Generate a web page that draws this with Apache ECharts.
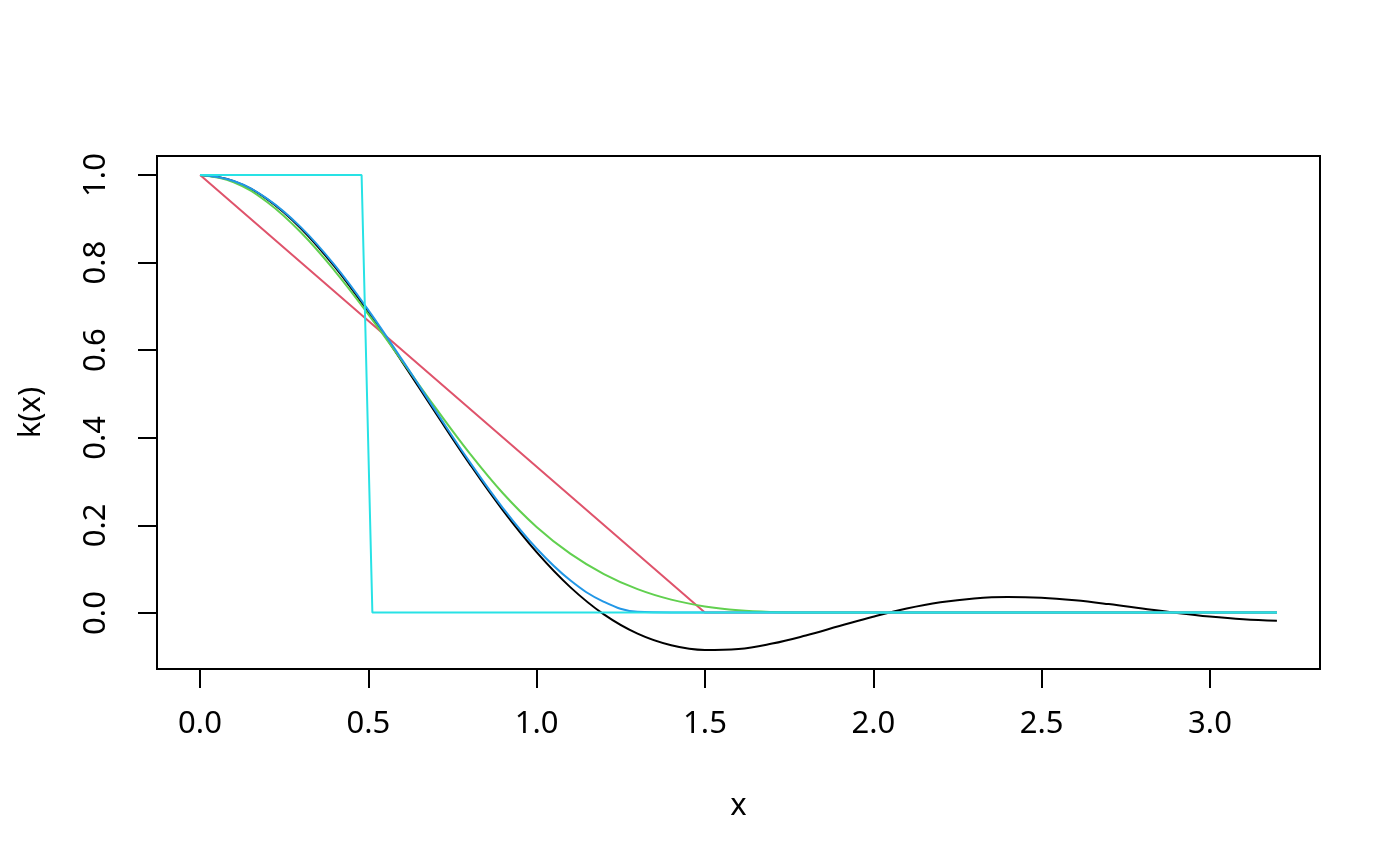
<!DOCTYPE html>
<html>
<head>
<meta charset="utf-8">
<script src="https://cdn.jsdelivr.net/npm/echarts@6/dist/echarts.min.js"></script>
<style>
  html, body { margin: 0; padding: 0; background: #fff; }
  #chart { width: 1400px; height: 866px; }
</style>
</head>
<body>
<div id="chart"></div>
<script>
// x positions (0 .. 3.2, step 0.1)
var xs = [0, 0.1, 0.2, 0.3, 0.4, 0.5, 0.6, 0.7, 0.8, 0.9, 1.0,
          1.1, 1.2, 1.3, 1.4, 1.5, 1.6, 1.7, 1.8, 1.9, 2.0,
          2.1, 2.2, 2.3, 2.4, 2.5, 2.6, 2.7, 2.8, 2.9, 3.0, 3.1, 3.2];

// black curve
var blackVals = [1, 0.9859, 0.9443, 0.8778, 0.7903, 0.6869, 0.5735, 0.4562, 0.3409, 0.2333, 0.1379,
                 0.0580, -0.0044, -0.0484, -0.0749, -0.0856, -0.0833, -0.0710, -0.0525, -0.0310, -0.0097,
                 0.0090, 0.0233, 0.0322, 0.0356, 0.0338, 0.0279, 0.0192, 0.0092, -0.0007, -0.0092, -0.0155, -0.0189];
// green curve
var greenVals = [1, 0.9835, 0.9377, 0.8684, 0.7810, 0.6814, 0.5751, 0.4677, 0.3650, 0.2726, 0.1956,
                 0.1346, 0.0879, 0.0534, 0.0294, 0.0140, 0.0052, 0.0012, 0.0001, 0, 0,
                 0, 0, 0, 0, 0, 0, 0, 0, 0, 0, 0, 0];
// blue curve
var blueVals = [1, 0.9862, 0.9455, 0.8802, 0.7939, 0.6913, 0.5782, 0.4608, 0.3455, 0.2388, 0.1464,
                0.0737, 0.0245, 0.0015, 0, 0, 0, 0, 0, 0, 0,
                0, 0, 0, 0, 0, 0, 0, 0, 0, 0, 0, 0];
// red (straight line) corners
var redX = [0, 1.5, 3.2];
var redVals = [1, 0, 0];
// cyan (step) corners
var cyanX = [0, 0.48, 0.512, 3.2];
var cyanVals = [1, 1, 0, 0];

var xTicks = [0, 3, 0.5];   // min, max, interval
var yTicks = [0, 1, 0.2];

function pairs(x, y) {
    var out = [];
    for (var i = 0; i < x.length; i++) {
        out.push([x[i], y[i]]);
    }
    return out;
}

var font = '"Noto Sans", "Open Sans", sans-serif';
var chart = echarts.init(document.getElementById('chart'));

var hidden = { show: false };

var option = {
    animation: false,
    backgroundColor: '#fff',
    grid: [
        // plot box
        { left: 157, right: 80, top: 156, bottom: 197, show: true,
          borderColor: '#000', borderWidth: 2, backgroundColor: 'transparent' },
        // x tick row
        { left: 200, right: 190, top: 156, bottom: 197 },
        // y tick column
        { left: 157, right: 80, top: 175, bottom: 253 }
    ],
    xAxis: [
        { gridIndex: 0, type: 'value', min: -0.128, max: 3.328,
          name: 'x', nameLocation: 'middle', nameGap: 122,
          nameTextStyle: { fontFamily: font, fontSize: 31, color: '#000' },
          axisLine: hidden, axisTick: hidden, axisLabel: hidden, splitLine: hidden },
        { gridIndex: 1, type: 'value', min: xTicks[0], max: xTicks[1], interval: xTicks[2],
          axisLine: hidden, splitLine: hidden,
          axisTick: { show: true, inside: false, length: 19, lineStyle: { color: '#000', width: 2 } },
          axisLabel: { show: true, margin: 40, fontFamily: font, fontSize: 31, color: '#000',
                       formatter: function (v) { return v.toFixed(1); } } },
        { gridIndex: 2, type: 'value', show: false, min: 0, max: 1 }
    ],
    yAxis: [
        { gridIndex: 0, type: 'value', min: -0.1291, max: 1.0434,
          name: 'k(x)', nameLocation: 'middle', nameGap: 110,
          nameTextStyle: { fontFamily: font, fontSize: 31, color: '#000' },
          axisLine: hidden, axisTick: hidden, axisLabel: hidden, splitLine: hidden },
        { gridIndex: 1, type: 'value', show: false, min: 0, max: 1 },
        { gridIndex: 2, type: 'value', min: yTicks[0], max: yTicks[1], interval: yTicks[2],
          axisLine: hidden, splitLine: hidden,
          axisTick: { show: true, inside: false, length: 19, lineStyle: { color: '#000', width: 2 } },
          axisLabel: { show: true, rotate: 90, margin: 45, fontFamily: font, fontSize: 31, color: '#000',
                       formatter: function (v) { return v.toFixed(1); } } }
    ],
    series: [
        { type: 'line', data: pairs(xs, blackVals), smooth: 0.4, showSymbol: false,
          lineStyle: { color: '#000000', width: 2 } },
        { type: 'line', data: pairs(redX, redVals), showSymbol: false,
          lineStyle: { color: '#DF536B', width: 2 } },
        { type: 'line', data: pairs(xs, greenVals), smooth: 0.4, showSymbol: false,
          lineStyle: { color: '#61D04F', width: 2 } },
        { type: 'line', data: pairs(xs, blueVals), smooth: 0.4, showSymbol: false,
          lineStyle: { color: '#2297E6', width: 2 } },
        { type: 'line', data: pairs(cyanX, cyanVals), showSymbol: false,
          lineStyle: { color: '#28E2E5', width: 2 } }
    ]
};

chart.setOption(option);
</script>
</body>
</html>
